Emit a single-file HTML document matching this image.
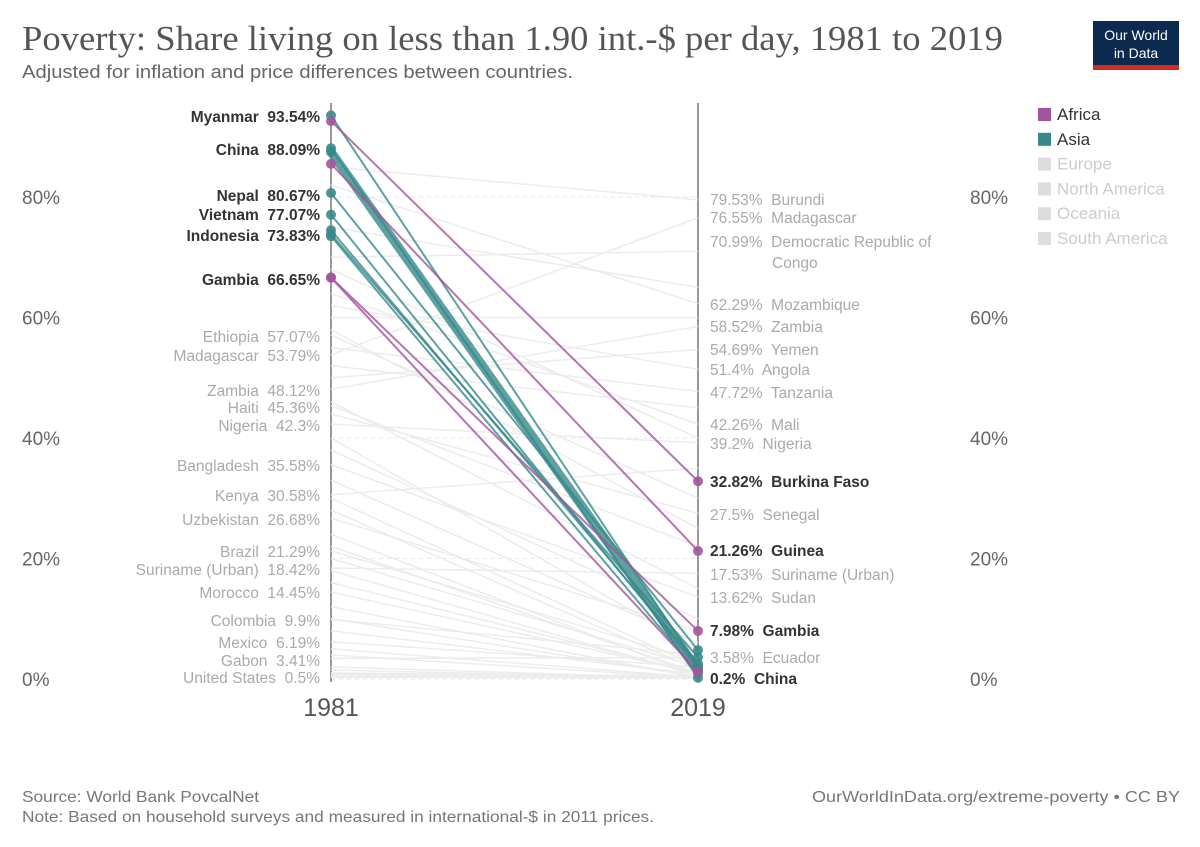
<!DOCTYPE html>
<html><head><meta charset="utf-8"><style>
body{margin:0;background:#fff;width:1200px;height:847px;overflow:hidden;font-family:"Liberation Sans",sans-serif}
svg{position:absolute;left:0;top:0}
</style></head><body>
<svg id="c" width="1200" height="847" xmlns="http://www.w3.org/2000/svg">
<text x="22" y="50" font-family="Liberation Serif,serif" font-size="35" fill="#555" textLength="981" lengthAdjust="spacingAndGlyphs">Poverty: Share living on less than 1.90 int.-$ per day, 1981 to 2019</text>
<text x="22" y="78" font-size="18" fill="#666" textLength="551" lengthAdjust="spacingAndGlyphs">Adjusted for inflation and price differences between countries.</text>
<g><rect x="1093" y="21" width="86" height="44" fill="#0c2a4f"/><rect x="1093" y="65" width="86" height="5" fill="#d42b21"/>
<text x="1136" y="40" font-size="14" fill="#fff" text-anchor="middle">Our World</text><text x="1136" y="58" font-size="14" fill="#fff" text-anchor="middle">in Data</text></g>
<g id="axes"></g><g id="gray"></g><g id="hl"></g><g id="labels"></g><g id="legend"></g>
<text x="22" y="802" font-size="16" fill="#777" textLength="237" lengthAdjust="spacingAndGlyphs">Source: World Bank PovcalNet</text>
<text x="22" y="822" font-size="16" fill="#777" textLength="632" lengthAdjust="spacingAndGlyphs">Note: Based on household surveys and measured in international-$ in 2011 prices.</text>
<text x="1180" y="802" font-size="16" fill="#777" text-anchor="end" textLength="368" lengthAdjust="spacingAndGlyphs">OurWorldInData.org/extreme-poverty • CC BY</text>
</svg>
<script>
const yTicks=[0,20,40,60,80];
const years=["1981","2019"];
// highlighted series
const hlNames=["Myanmar","China","China-band","Nepal","Vietnam","Indonesia","Asia-a","Asia-b","Burkina Faso","Guinea","Gambia","Africa-a"];
const hlRegion=["Asia","Asia","Asia","Asia","Asia","Asia","Asia","Asia","Africa","Africa","Africa","Africa"];
const hlStart=[93.54,88.09,87.5,80.67,77.07,73.83,74.5,73.5,92.6,85.5,66.65,66.6];
const hlEnd=[2.0,0.2,1.5,4.8,1.8,3.6,2.5,1.0,32.82,21.26,7.98,1.2];
const hlWidth=[2,2,9,2,2,2,2,2,2,2,2,2];
// gray background series
const grayStart=[57.07,53.79,48.12,45.36,42.3,35.58,30.58,26.68,21.29,18.42,14.45,9.9,6.19,3.41,0.5,85,82,70,64,62,55,50,44,38,33,28,24,20,16,12,8,5,2,1,0.3,60,52,46,40,30,22,18,10,4,1.5,0.8,75,68,58];
const grayEnd=[30,76.55,58.52,22,39.2,13.62,35,8,3,17.53,1,4,2,3.58,0.5,79.53,62.29,70.99,42.26,51.4,47.72,54.69,27.5,10,6,1.5,0.5,2,1,0.2,0.8,0.3,0.1,0.5,0.2,60,45,15,5,2,1,0.6,0.4,0.2,0.1,0.3,65,40,25];
const leftLabels=[["Myanmar",93.54,1],["China",88.09,1],["Nepal",80.67,1],["Vietnam",77.07,1],["Indonesia",73.83,1],["Gambia",66.65,1],["Ethiopia",57.07,0],["Madagascar",53.79,0],["Zambia",48.12,0],["Haiti",45.36,0],["Nigeria",42.3,0],["Bangladesh",35.58,0],["Kenya",30.58,0],["Uzbekistan",26.68,0],["Brazil",21.29,0],["Suriname (Urban)",18.42,0],["Morocco",14.45,0],["Colombia",9.9,0],["Mexico",6.19,0],["Gabon",3.41,0],["United States",0.5,0]];
const rightLabels=[["Burundi",79.53,0],["Madagascar",76.55,0],["Democratic Republic of",70.99,0],["Mozambique",62.29,0],["Zambia",58.52,0],["Yemen",54.69,0],["Angola",51.4,0],["Tanzania",47.72,0],["Mali",42.26,0],["Nigeria",39.2,0],["Burkina Faso",32.82,1],["Senegal",27.5,0],["Guinea",21.26,1],["Suriname (Urban)",17.53,0],["Sudan",13.62,0],["Gambia",7.98,1],["Ecuador",3.58,0],["China",0.2,1]];
const leftDisp=[121,154,200,219,240,284,341,360,395,412,430,470,500,524,556,574,597,625,647,665,682];
const rightDisp=[205,223,247,310,332,355,375,398,430,449,487,520,556,580,603,636,663,684];
const legendNames=["Africa","Asia","Europe","North America","Oceania","South America"];
const C={Africa:"#a2559c",Asia:"#38898a"};
const x0=331,x1=698;
const y=v=>679-v*(482/80);
const NS="http://www.w3.org/2000/svg";
function mk(p,t,a){const e=document.createElementNS(NS,t);for(const k in a)e.setAttribute(k,a[k]);p.appendChild(e);return e;}
const ax=document.getElementById('axes');
yTicks.forEach(t=>{
 const l=mk(ax,'line',{x1:x0,x2:x1,y1:y(t),y2:y(t),stroke:'#e6e6e6','stroke-dasharray':'4,4'});
 
 
 [[22,'start'],[970,'start']].forEach(p=>{const tx=mk(ax,'text',{x:p[0],y:y(t)+7,'font-size':19,fill:'#666','text-anchor':p[1]});tx.textContent=t+'%';
 
 });
});
[x0,x1].forEach((xx,i)=>{const l=mk(ax,'line',{x1:xx,x2:xx,y1:103,y2:682,stroke:'#333','stroke-width':1});
 
 
 const t=mk(ax,'text',{x:xx,y:716,'font-size':25,fill:'#555','text-anchor':'middle'});t.textContent=years[i];
 
 });
const g=document.getElementById('gray');
grayStart.forEach((s,i)=>{const l=mk(g,'line',{x1:x0,y1:y(s),x2:x1,y2:y(grayEnd[i]),stroke:'#ececec','stroke-width':1.5});
 
 });
const h=document.getElementById('hl');
hlStart.forEach((s,i)=>{const c=C[hlRegion[i]];
 const l=mk(h,'line',{x1:x0,y1:y(s),x2:x1,y2:y(hlEnd[i]),stroke:c,'stroke-width':hlWidth[i],opacity:.8});
 
 
 [[x0,s],[x1,hlEnd[i]]].forEach(p=>{const d=mk(h,'circle',{cx:p[0],cy:y(p[1]),r:5,fill:c,opacity:.9});
 
 });});
const lb=document.getElementById('labels');
leftLabels.forEach((a,i)=>{const t=mk(lb,'text',{x:320,y:leftDisp[i]+1,'font-size':15.5,fill:a[2]?'#333':'#aaa','font-weight':a[2]?'bold':'normal','text-anchor':'end'});
 t.textContent=a[0]+'  '+a[1]+'%';t.style.whiteSpace='pre';
 
 });
rightLabels.forEach((a,i)=>{const t=mk(lb,'text',{x:710,y:rightDisp[i],'font-size':15.5,fill:a[2]?'#333':'#aaa','font-weight':a[2]?'bold':'normal'});
 t.textContent=a[1]+'%  '+a[0];t.style.whiteSpace='pre';
 
 });
{const t=mk(lb,'text',{x:772,y:268,'font-size':15.5,fill:'#aaa'});t.textContent='Congo';
 
 }
const lg=document.getElementById('legend');
legendNames.forEach((n,i)=>{const yy=108+i*24.8;const c=C[n]||'#ddd';
 const r=mk(lg,'rect',{x:1038,y:yy,width:13,height:13,fill:c});
 
 
 const t=mk(lg,'text',{x:1057,y:yy+12,'font-size':17,fill:C[n]?'#333':'#ccc'});t.textContent=n;
 
 });
</script>
</body></html>
